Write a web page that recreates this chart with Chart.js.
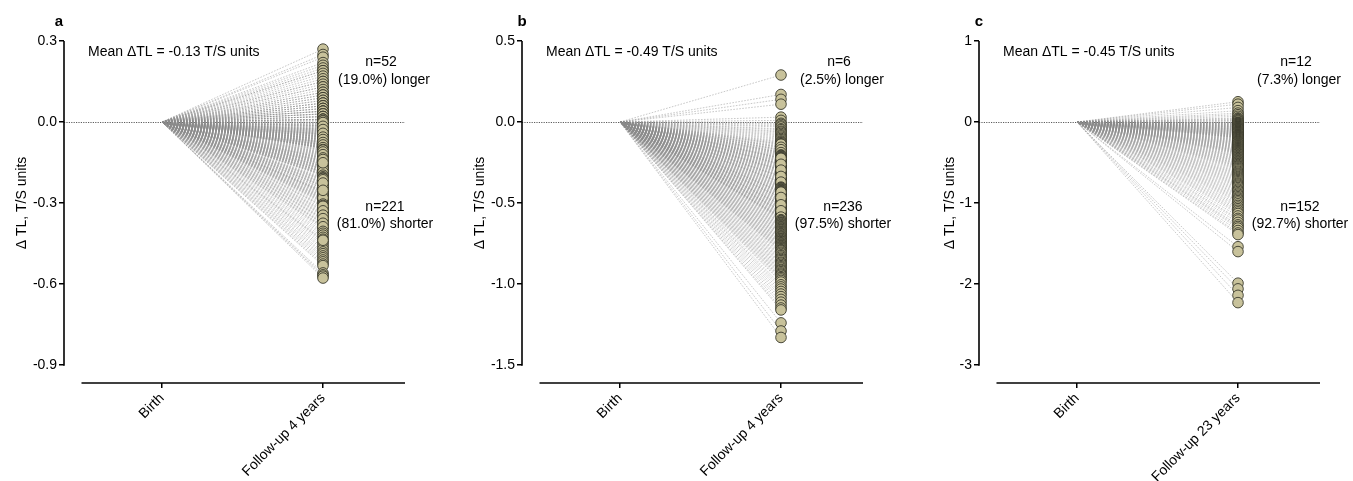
<!DOCTYPE html>
<html>
<head>
<meta charset="utf-8">
<script src="https://cdn.jsdelivr.net/npm/chart.js@4.4.1/dist/chart.umd.min.js"></script>
<style>
  body { margin: 0; background: #fff; width: 1353px; height: 481px; position: relative; overflow: hidden; }
  canvas { position: absolute; top: 0; }
</style>
</head>
<body>
<canvas id="panelA" width="451" height="481" style="left:0px"></canvas>
<canvas id="panelB" width="451" height="481" style="left:450px"></canvas>
<canvas id="panelC" width="453" height="481" style="left:900px"></canvas>
<script>
// categories
const xLabelsA = ['Birth', 'Follow-up 4 years'];
const xLabelsB = ['Birth', 'Follow-up 4 years'];
const xLabelsC = ['Birth', 'Follow-up 23 years'];

// y ticks
const yTicksA = [0.3, 0.0, -0.3, -0.6, -0.9];
const yTickLabelsA = ['0.3', '0.0', '-0.3', '-0.6', '-0.9'];
const yTicksB = [0.5, 0.0, -0.5, -1.0, -1.5];
const yTickLabelsB = ['0.5', '0.0', '-0.5', '-1.0', '-1.5'];
const yTicksC = [1, 0, -1, -2, -3];
const yTickLabelsC = ['1', '0', '-1', '-2', '-3'];

// change in TL at follow-up (birth = 0 for everyone)
const followUpA = [
  0.27, 0.25, 0.24, 0.22, 0.21, 0.20, 0.19, 0.19, 0.18, 0.17,
  0.16, 0.15, 0.15, 0.14, 0.13, 0.13, 0.12, 0.11, 0.11, 0.10,
  0.10, 0.09, 0.09, 0.08, 0.08, 0.07, 0.07, 0.07, 0.06, 0.06,
  0.06, 0.05, 0.05, 0.05, 0.04, 0.04, 0.04, 0.04, 0.03, 0.03,
  0.03, 0.03, 0.02, 0.02, 0.02, 0.02, 0.01, 0.01, 0.01, 0.01,
  0.005, 0.004,
  -0.004, -0.006, -0.011, -0.013, -0.014, -0.019, -0.021, -0.023, -0.026, -0.029,
  -0.031, -0.033, -0.034, -0.037, -0.039, -0.041, -0.043, -0.044, -0.047, -0.049,
  -0.052, -0.053, -0.055, -0.058, -0.061, -0.062, -0.064, -0.067, -0.069, -0.071,
  -0.072, -0.074, -0.077, -0.079, -0.081, -0.083, -0.086, -0.088, -0.091, -0.093,
  -0.094, -0.097, -0.099, -0.008, -0.017, -0.027, -0.036, -0.046, -0.051, -0.057,
  -0.066, -0.075, -0.084, -0.092, -0.012, -0.024, -0.038, -0.048, -0.059, -0.068,
  -0.078, -0.087, -0.096, -0.002, -0.016, -0.032, -0.045, -0.054, -0.063, -0.073,
  -0.082, -0.089, -0.098, -0.028, -0.042, -0.056, -0.065, -0.076, -0.085, -0.095,
  -0.102, -0.106, -0.108, -0.113, -0.117, -0.119, -0.123, -0.127, -0.129, -0.131,
  -0.134, -0.137, -0.141, -0.143, -0.146, -0.149, -0.152, -0.154, -0.157, -0.161,
  -0.163, -0.166, -0.169, -0.171, -0.174, -0.177, -0.179, -0.182, -0.184, -0.187,
  -0.189, -0.192, -0.195, -0.198, -0.104, -0.115, -0.125, -0.136, -0.147, -0.156,
  -0.164, -0.173, -0.183, -0.193, -0.111, -0.121, -0.133, -0.144, -0.158, -0.167,
  -0.176, -0.186, -0.197, -0.139, -0.151,
  -0.203, -0.207, -0.212, -0.216, -0.219, -0.224, -0.228, -0.231, -0.236, -0.239,
  -0.243, -0.247, -0.252, -0.256, -0.259, -0.263, -0.268, -0.271, -0.276, -0.279,
  -0.284, -0.288, -0.291, -0.296, -0.299, -0.209, -0.222, -0.234, -0.246, -0.258,
  -0.266, -0.274, -0.286, -0.294, -0.214, -0.238, -0.261, -0.281, -0.226, -0.253,
  -0.304, -0.309, -0.315, -0.321, -0.326, -0.333, -0.338, -0.342, -0.349, -0.355,
  -0.361, -0.366, -0.372, -0.378, -0.384, -0.391, -0.397, -0.312, -0.329, -0.345,
  -0.358, -0.375, -0.388,
  -0.405, -0.412, -0.419, -0.427, -0.434, -0.442, -0.449, -0.457, -0.465, -0.472,
  -0.481, -0.488, -0.496, -0.438,
  -0.503, -0.511, -0.518, -0.526, -0.532, -0.559, -0.566, -0.571, -0.578
];

const followUpB = [
  0.29, 0.17, 0.14, 0.11, 0.03, 0.01,
  -0.008, -0.015, -0.024, -0.031, -0.042, -0.048, -0.057, -0.063, -0.071, -0.079,
  -0.086, -0.094, -0.102, -0.109, -0.117, -0.123, -0.128, -0.134, -0.141, -0.147,
  -0.152, -0.158, -0.163, -0.169, -0.174, -0.178, -0.183, -0.187, -0.192, -0.196,
  -0.199, -0.137, -0.156, -0.171, -0.189,
  -0.203, -0.207, -0.211, -0.215, -0.218, -0.222, -0.225, -0.229, -0.232, -0.236,
  -0.239, -0.243, -0.246, -0.249, -0.253, -0.257, -0.259, -0.264, -0.266, -0.271,
  -0.273, -0.278, -0.281, -0.285, -0.288, -0.292, -0.295, -0.298, -0.303, -0.305,
  -0.309, -0.313, -0.316, -0.319, -0.324, -0.327, -0.331, -0.335, -0.338, -0.342,
  -0.346, -0.349, -0.354, -0.357, -0.361, -0.364, -0.369, -0.372, -0.376, -0.379,
  -0.384, -0.387, -0.391, -0.395, -0.398, -0.224, -0.261, -0.297, -0.336, -0.371,
  -0.402, -0.406, -0.409, -0.413, -0.417, -0.42, -0.424, -0.428, -0.431, -0.435,
  -0.438, -0.443, -0.446, -0.449, -0.454, -0.457, -0.46, -0.465, -0.468, -0.471,
  -0.476, -0.479, -0.482, -0.487, -0.49, -0.493, -0.498, -0.501, -0.504, -0.509,
  -0.512, -0.515, -0.52, -0.523, -0.526, -0.531, -0.534, -0.537, -0.542, -0.545,
  -0.548, -0.553, -0.556, -0.559, -0.564, -0.567, -0.57, -0.575, -0.578, -0.581,
  -0.586, -0.589, -0.592, -0.596, -0.599, -0.433, -0.466, -0.511, -0.548, -0.587,
  -0.603, -0.608, -0.612, -0.618, -0.622, -0.626, -0.632, -0.636, -0.641, -0.646,
  -0.65, -0.655, -0.66, -0.664, -0.669, -0.675, -0.678, -0.683, -0.689, -0.692,
  -0.697, -0.703, -0.706, -0.711, -0.717, -0.721, -0.725, -0.731, -0.735, -0.739,
  -0.745, -0.749, -0.754, -0.759, -0.763, -0.768, -0.773, -0.777, -0.782, -0.788,
  -0.791, -0.796,
  -0.804, -0.811, -0.82, -0.826, -0.834, -0.842, -0.849, -0.856, -0.865, -0.871,
  -0.879, -0.887, -0.894, -0.901, -0.91, -0.916, -0.924, -0.932, -0.939, -0.946,
  -0.955, -0.961, -0.969, -0.978, -0.988,
  -1.005, -1.018, -1.031, -1.046, -1.062, -1.078, -1.095, -1.112, -1.13, -1.148, -1.16,
  -1.24, -1.29, -1.33
];

const followUpC = [
  0.25, 0.22, 0.18, 0.14, 0.11, 0.09, 0.07, 0.05, 0.04, 0.03, 0.02, 0.01,
  -0.004, -0.009, -0.013, -0.018, -0.022, -0.026, -0.031, -0.034, -0.039, -0.043,
  -0.047, -0.051, -0.056, -0.058, -0.062, -0.067, -0.07, -0.074, -0.079, -0.082,
  -0.086, -0.089, -0.094, -0.097, -0.101, -0.106, -0.108, -0.112, -0.117, -0.12,
  -0.124, -0.129, -0.131, -0.135, -0.14, -0.143, -0.147, -0.152, -0.155, -0.158,
  -0.163, -0.166, -0.17, -0.175, -0.178, -0.182, -0.187, -0.19, -0.194, -0.198,
  -0.204, -0.21, -0.217, -0.222, -0.228, -0.235, -0.24, -0.246, -0.253, -0.258,
  -0.264, -0.271, -0.276, -0.282, -0.289, -0.294, -0.3, -0.307, -0.312, -0.318,
  -0.325, -0.33, -0.337, -0.343, -0.35, -0.355, -0.362, -0.368, -0.375, -0.381, -0.388, -0.396,
  -0.405, -0.414, -0.424, -0.432, -0.441, -0.451, -0.46, -0.469, -0.479, -0.487,
  -0.497, -0.507, -0.516, -0.525, -0.536, -0.545, -0.555, -0.567, -0.578, -0.591,
  -0.606, -0.619, -0.633, -0.645, -0.658, -0.672, -0.684, -0.697, -0.711, -0.724,
  -0.738, -0.753, -0.766, -0.78, -0.794,
  -0.81, -0.827, -0.842, -0.858, -0.875, -0.89, -0.906, -0.923, -0.938, -0.954, -0.971, -0.988,
  -1.01, -1.03, -1.05, -1.07, -1.09, -1.11, -1.13, -1.16, -1.19,
  -1.21, -1.24, -1.27, -1.29, -1.31, -1.34, -1.37, -1.39,
  -1.54, -1.6,
  -1.99, -2.06, -2.14, -2.23
];

// annotation texts
const panelLetters = ['a', 'b', 'c'];
const meanNotes = ['Mean \u0394TL = -0.13 T/S units', 'Mean \u0394TL = -0.49 T/S units', 'Mean \u0394TL = -0.45 T/S units'];
const longerNotes = [['n=52', '(19.0%) longer'], ['n=6', '(2.5%) longer'], ['n=12', '(7.3%) longer']];
const shorterNotes = [['n=221', '(81.0%) shorter'], ['n=236', '(97.5%) shorter'], ['n=152', '(92.7%) shorter']];
const yTitle = '\u0394 TL, T/S units';

const FONT = "'Liberation Sans', Arial, sans-serif";

const decor = {
  id: 'decor',
  beforeDatasetsDraw(chart, args, o) {
    const { ctx, chartArea: a, scales: { y } } = chart;
    ctx.save();
    ctx.strokeStyle = '#333';
    ctx.lineWidth = 0.8;
    ctx.setLineDash([1.2, 1.2]);
    const y0 = Math.round(y.getPixelForValue(0)) + 0.5;
    ctx.beginPath();
    ctx.moveTo(a.left, y0);
    ctx.lineTo(a.right, y0);
    ctx.stroke();
    ctx.restore();
  },
  afterDraw(chart, args, o) {
    const { ctx, chartArea: a, scales: { x, y } } = chart;
    ctx.save();
    ctx.strokeStyle = '#000';
    ctx.lineWidth = 1.6;
    ctx.beginPath();
    ctx.moveTo(a.left, y.getPixelForValue(o.yTop));
    ctx.lineTo(a.left, y.getPixelForValue(o.yBottom) + 0.8);
    ctx.stroke();
    ctx.beginPath();
    ctx.moveTo(x.getPixelForValue(-0.5), a.bottom);
    ctx.lineTo(a.right, a.bottom);
    ctx.stroke();

    ctx.fillStyle = '#000';
    ctx.font = 'bold 15px ' + FONT;
    ctx.textAlign = 'center';
    ctx.textBaseline = 'middle';
    ctx.fillText(o.letter, a.left + o.letterDx, 22);

    ctx.font = '14px ' + FONT;
    ctx.textAlign = 'left';
    ctx.fillText(o.mean, a.left + 24, 52);

    ctx.textAlign = 'center';
    const fx = x.getPixelForValue(1);
    ctx.fillText(o.longer[0], fx + 58, 62);
    ctx.fillText(o.longer[1], fx + 61, 80);
    ctx.fillText(o.shorter[0], fx + 62, 207);
    ctx.fillText(o.shorter[1], fx + 62, 224);

    ctx.translate(a.left - o.titleDx, (y.getPixelForValue(o.yTop) + y.getPixelForValue(o.yBottom)) / 2);
    ctx.rotate(-Math.PI / 2);
    ctx.fillText(yTitle, 0, 0);
    ctx.restore();
  }
};

function makePanel(id, idx, vals, xLabels, yTicks, yTickLabels, yAxisX, titleDx, letterDx) {
  const canvas = document.getElementById(id);
  const W = canvas.width;
  const step = yTicks[0] - yTicks[1];
  const yMin = yTicks[yTicks.length - 1] - step * 18 / 81;

  const lines = [];
  vals.forEach(v => { lines.push({ x: 0, y: 0 }, { x: 1, y: v }, { x: 1, y: null }); });
  const pts = vals.map(v => ({ x: 1, y: v }));

  return new Chart(canvas, {
    type: 'line',
    data: {
      datasets: [
        {
          data: pts,
          showLine: false,
          pointRadius: 5.3,
          pointBackgroundColor: '#c8c29b',
          pointBorderColor: '#3a3a2c',
          pointBorderWidth: 0.9,
          clip: false,
          order: 0
        },
        {
          data: lines,
          borderColor: 'rgba(140,140,140,0.6)',
          borderWidth: 0.8,
          borderDash: [1.6, 1.4],
          pointRadius: 0,
          spanGaps: false,
          clip: false,
          order: 1
        }
      ]
    },
    options: {
      responsive: false,
      animation: false,
      devicePixelRatio: 1,
      layout: { padding: { top: 41, right: W - (yAxisX + 341), left: 0, bottom: 0 } },
      plugins: {
        legend: { display: false },
        tooltip: { enabled: false },
        decor: {
          yTop: yTicks[0], yBottom: yTicks[yTicks.length - 1],
          letter: panelLetters[idx], letterDx: letterDx, mean: meanNotes[idx],
          longer: longerNotes[idx], shorter: shorterNotes[idx], titleDx: titleDx
        }
      },
      scales: {
        x: {
          type: 'linear',
          min: -98 / 161,
          max: 1 + 82 / 161,
          afterBuildTicks: s => { s.ticks = [{ value: 0 }, { value: 1 }]; },
          afterFit: s => { s.height = 98; },
          border: { display: false },
          grid: { drawOnChartArea: false, drawTicks: true, tickLength: 5, color: '#000', lineWidth: 1.5 },
          ticks: {
            autoSkip: false, minRotation: 45, maxRotation: 45, padding: 2,
            color: '#000', font: { family: FONT, size: 14 },
            callback: v => xLabels[v]
          }
        },
        y: {
          min: yMin,
          max: yTicks[0],
          afterBuildTicks: s => { s.ticks = yTicks.map(v => ({ value: v })); },
          afterFit: s => { s.width = yAxisX; },
          border: { display: false },
          grid: { drawOnChartArea: false, drawTicks: true, tickLength: 5, color: '#000', lineWidth: 1.5 },
          ticks: {
            padding: 2, color: '#000', font: { family: FONT, size: 14 },
            callback: v => yTickLabels[yTicks.indexOf(v)]
          }
        }
      }
    },
    plugins: [decor]
  });
}

makePanel('panelA', 0, followUpA, xLabelsA, yTicksA, yTickLabelsA, 64, 42, -5);
makePanel('panelB', 1, followUpB, xLabelsB, yTicksB, yTickLabelsB, 72, 42, 0);
makePanel('panelC', 2, followUpC, xLabelsC, yTicksC, yTickLabelsC, 79, 29, 0);
</script>
</body>
</html>
